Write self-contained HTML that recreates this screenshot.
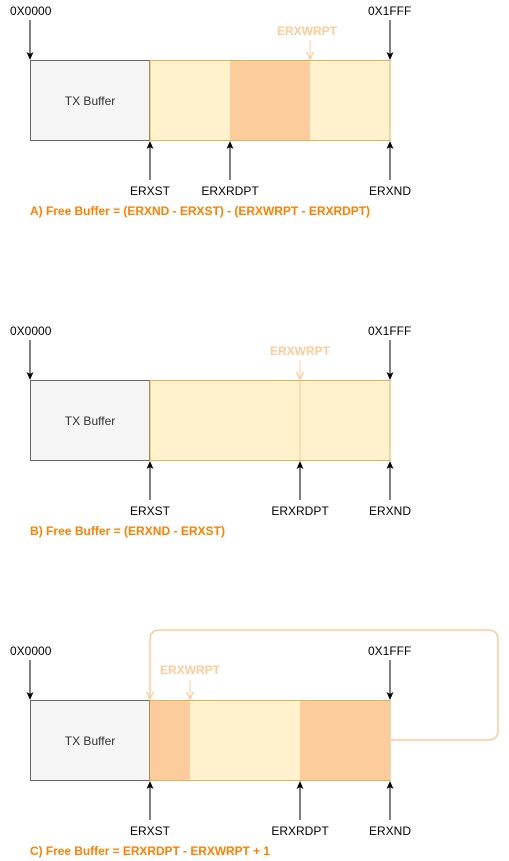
<!DOCTYPE html>
<html><head><meta charset="utf-8"><style>
html,body{margin:0;padding:0;background:#fff;}
svg{display:block;}
text{font-family:"Liberation Sans",Helvetica,Arial,sans-serif;}
</style></head><body>
<svg width="509" height="861" viewBox="0 0 509 861" xmlns="http://www.w3.org/2000/svg">
<defs>
<marker id="ab" markerWidth="8" markerHeight="8" refX="7" refY="4" orient="auto" markerUnits="userSpaceOnUse"><path d="M0,0.5 L8,4 L0,7.5 L2,4 Z" fill="#000"/></marker>
<marker id="ao" markerWidth="8" markerHeight="8" refX="7" refY="4" orient="auto" markerUnits="userSpaceOnUse"><path d="M0,0.5 L7,4 L0,7.5" fill="none" stroke="#ffcc99" stroke-width="1.2"/></marker>
</defs>

<!-- A -->
<g>
<text x="10" y="15" font-size="12" fill="#000">0X0000</text>
<text x="368" y="15" font-size="12" fill="#000">0X1FFF</text>
<line x1="30" y1="20" x2="30" y2="59" stroke="#000" marker-end="url(#ab)"/>
<line x1="390" y1="20" x2="390" y2="59" stroke="#000" marker-end="url(#ab)"/>
<rect x="30.5" y="60.5" width="119" height="80" fill="#f5f5f5" stroke="#666"/>
<rect x="150" y="60.5" width="240" height="80" fill="#fff2cc" stroke="#d6b656"/>
<rect x="230" y="61" width="80" height="79" fill="#fdcc9d"/>
<text x="90" y="105" font-size="12" fill="#333" text-anchor="middle">TX Buffer</text>
<text x="307" y="35" font-size="12" font-weight="bold" fill="#ffcc99" text-anchor="middle">ERXWRPT</text>
<line x1="310" y1="40" x2="310" y2="59" stroke="#ffcc99" marker-end="url(#ao)"/>
<line x1="150" y1="180" x2="150" y2="142" stroke="#000" marker-end="url(#ab)"/>
<line x1="230" y1="180" x2="230" y2="142" stroke="#000" marker-end="url(#ab)"/>
<line x1="390" y1="180" x2="390" y2="142" stroke="#000" marker-end="url(#ab)"/>
<text x="150" y="195" font-size="12" text-anchor="middle">ERXST</text>
<text x="230" y="195" font-size="12" text-anchor="middle">ERXRDPT</text>
<text x="390" y="195" font-size="12" text-anchor="middle">ERXND</text>
<text x="30" y="215" font-size="12" font-weight="bold" fill="#ff8000" textLength="340" lengthAdjust="spacingAndGlyphs">A) Free Buffer = (ERXND - ERXST) - (ERXWRPT - ERXRDPT)</text>
</g>

<!-- B -->
<g transform="translate(0,320)">
<text x="10" y="15" font-size="12" fill="#000">0X0000</text>
<text x="368" y="15" font-size="12" fill="#000">0X1FFF</text>
<line x1="30" y1="20" x2="30" y2="59" stroke="#000" marker-end="url(#ab)"/>
<line x1="390" y1="20" x2="390" y2="59" stroke="#000" marker-end="url(#ab)"/>
<rect x="30.5" y="60.5" width="119" height="80" fill="#f5f5f5" stroke="#666"/>
<rect x="150" y="60.5" width="240" height="80" fill="#fff2cc" stroke="#d6b656"/>
<line x1="300" y1="61" x2="300" y2="140" stroke="#ffcc99"/>
<text x="90" y="105" font-size="12" fill="#333" text-anchor="middle">TX Buffer</text>
<text x="300" y="35" font-size="12" font-weight="bold" fill="#ffcc99" text-anchor="middle">ERXWRPT</text>
<line x1="300" y1="40" x2="300" y2="59" stroke="#ffcc99" marker-end="url(#ao)"/>
<line x1="150" y1="180" x2="150" y2="142" stroke="#000" marker-end="url(#ab)"/>
<line x1="300" y1="180" x2="300" y2="142" stroke="#000" marker-end="url(#ab)"/>
<line x1="390" y1="180" x2="390" y2="142" stroke="#000" marker-end="url(#ab)"/>
<text x="150" y="195" font-size="12" text-anchor="middle">ERXST</text>
<text x="300" y="195" font-size="12" text-anchor="middle">ERXRDPT</text>
<text x="390" y="195" font-size="12" text-anchor="middle">ERXND</text>
<text x="30" y="215" font-size="12" font-weight="bold" fill="#ff8000" textLength="195" lengthAdjust="spacingAndGlyphs">B) Free Buffer = (ERXND - ERXST)</text>
</g>

<!-- C -->
<g transform="translate(0,640)">
<text x="10" y="15" font-size="12" fill="#000">0X0000</text>
<text x="368" y="15" font-size="12" fill="#000">0X1FFF</text>
<line x1="30" y1="20" x2="30" y2="59" stroke="#000" marker-end="url(#ab)"/>
<line x1="390" y1="20" x2="390" y2="59" stroke="#000" marker-end="url(#ab)"/>
<rect x="30.5" y="60.5" width="119" height="80" fill="#f5f5f5" stroke="#666"/>
<rect x="150" y="60.5" width="240" height="80" fill="#fff2cc" stroke="#d6b656"/>
<rect x="150" y="61" width="40" height="79" fill="#fdcc9d"/>
<rect x="300" y="61" width="90" height="79" fill="#fdcc9d"/>
<text x="90" y="105" font-size="12" fill="#333" text-anchor="middle">TX Buffer</text>
<text x="190" y="34" font-size="12" font-weight="bold" fill="#ffcc99" text-anchor="middle">ERXWRPT</text>
<line x1="190" y1="40" x2="190" y2="59" stroke="#ffcc99" marker-end="url(#ao)"/>
<path d="M390,100 L488,100 Q498,100 498,90 L498,0 Q498,-10 488,-10 L160,-10 Q150,-10 150,0 L150,59" fill="none" stroke="#ffcc99" stroke-width="1.5" marker-end="url(#ao)"/>
<line x1="150" y1="180" x2="150" y2="142" stroke="#000" marker-end="url(#ab)"/>
<line x1="300" y1="180" x2="300" y2="142" stroke="#000" marker-end="url(#ab)"/>
<line x1="390" y1="180" x2="390" y2="142" stroke="#000" marker-end="url(#ab)"/>
<text x="150" y="195" font-size="12" text-anchor="middle">ERXST</text>
<text x="300" y="195" font-size="12" text-anchor="middle">ERXRDPT</text>
<text x="390" y="195" font-size="12" text-anchor="middle">ERXND</text>
<text x="30" y="215" font-size="12" font-weight="bold" fill="#ff8000" textLength="240" lengthAdjust="spacingAndGlyphs">C) Free Buffer = ERXRDPT - ERXWRPT + 1</text>
</g>
</svg>
</body></html>
